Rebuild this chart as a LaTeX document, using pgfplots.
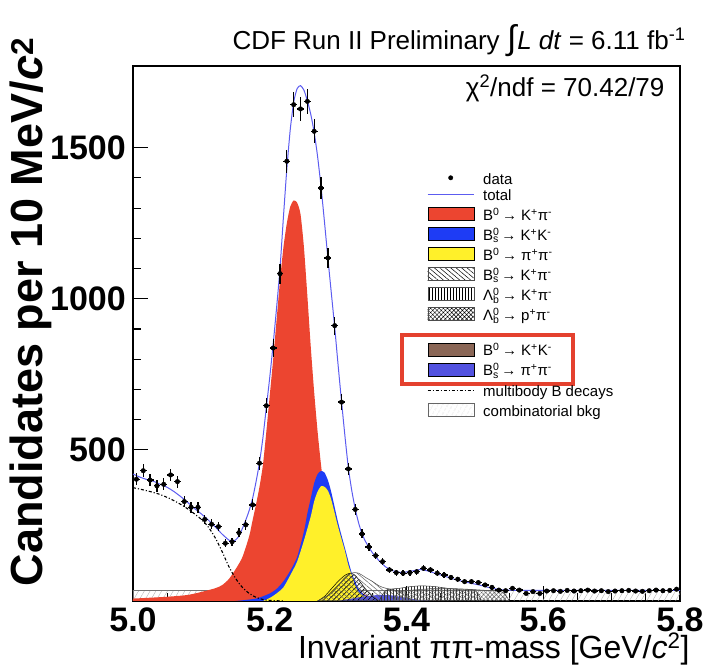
\documentclass[border=0pt]{standalone}
\usepackage{fontspec}
\setmainfont{Liberation Sans}
\usepackage{pgfplots}
\pgfplotsset{compat=1.18}
\usetikzlibrary{patterns,patterns.meta}

\definecolor{sigred}{HTML}{EC4530}
\definecolor{sigblue}{HTML}{1E3CF5}
\definecolor{sigyellow}{HTML}{FFF02A}
\definecolor{kkbrown}{HTML}{8A6656}
\definecolor{pipurple}{HTML}{5252E0}
\definecolor{fitline}{HTML}{5C5CF0}
\definecolor{boxred}{HTML}{E4412E}

\newcommand{\ud}[2]{\rlap{\textsuperscript{#1}}\textsubscript{#2}}

\pgfplotsset{
  boxleg/.style={legend image code/.code={\draw[##1] (0pt,-3pt) rectangle (46pt,10pt);}},
  lineleg/.style={legend image code/.code={\draw[##1] (0pt,3.5pt) -- (46pt,3.5pt);}},
  dotleg/.style={legend image code/.code={\fill[black] (23pt,3.5pt) circle (2.2pt);}},
}

\begin{document}
\begin{tikzpicture}
\useasboundingbox (-133pt,-70pt) rectangle (571pt,601pt);
\begin{axis}[
  at={(0,0)}, anchor=south west,
  scale only axis, width=547pt, height=535pt,
  xmin=5, xmax=5.8, ymin=0, ymax=1770,
  xtick={5,5.2,5.4,5.6,5.8}, minor x tick num=3,
  ytick={500,1000,1500}, minor y tick num=4,
  tick align=inside, xtick pos=left, ytick pos=left,
  major tick length=15pt, minor tick length=8pt,
  tick style={black, line width=1.1pt},
  axis line style={line width=1.5pt},
  ticklabel style={font=\fontsize{34}{34}\selectfont\bfseries},
  /pgf/number format/assume math mode=true,
  xticklabel style={/pgf/number format/.cd, fixed, fixed zerofill, precision=1, /tikz/.cd, inner sep=0pt, yshift=-7pt},
  yticklabel style={/pgf/number format/1000 sep={}, inner sep=0pt, xshift=-7pt},
  legend style={at={(rel axis cs:0.5375,0.797)}, anchor=north west, draw=none, fill=none,
    inner sep=0pt, font=\fontsize{15}{15}\selectfont, row sep=3.3pt, column sep=9pt,
    nodes={inner sep=0pt, text height=9.5pt, text depth=3.5pt}},
  legend cell align=left,
]
% legend
\addlegendimage{dotleg}
\addlegendentry{data}
\addlegendimage{lineleg, fitline, line width=1pt}
\addlegendentry{total}
\addlegendimage{boxleg, fill=sigred, draw=none}
\addlegendentry{B\textsuperscript{0}\,→ K\textsuperscript{+}π\textsuperscript{-}}
\addlegendimage{boxleg, fill=sigblue, draw=none}
\addlegendentry{B\ud{0}{s}\,→ K\textsuperscript{+}K\textsuperscript{-}}
\addlegendimage{boxleg, fill=sigyellow, draw=none}
\addlegendentry{B\textsuperscript{0}\,→ π\textsuperscript{+}π\textsuperscript{-}}
\addlegendimage{boxleg, draw=black!70, pattern={Lines[angle=-40,distance=3.5pt,line width=0.5pt]}, pattern color=black}
\addlegendentry{B\ud{0}{s}\,→ K\textsuperscript{+}π\textsuperscript{-}}
\addlegendimage{boxleg, draw=black!70, pattern={Lines[angle=90,distance=3pt,line width=0.5pt]}, pattern color=black}
\addlegendentry{Λ\ud{0}{b}\,→ K\textsuperscript{+}π\textsuperscript{-}}
\addlegendimage{boxleg, draw=black!70, pattern={Hatch[angle=45,distance=3pt,line width=0.5pt]}, pattern color=black}
\addlegendentry{Λ\ud{0}{b}\,→ p\textsuperscript{+}π\textsuperscript{-}}
\addlegendimage{empty legend}
\addlegendentry[text height=12pt, text depth=0pt]{}
\addlegendimage{boxleg, fill=kkbrown, draw=none}
\addlegendentry{B\textsuperscript{0}\,→ K\textsuperscript{+}K\textsuperscript{-}}
\addlegendimage{boxleg, fill=pipurple, draw=none}
\addlegendentry{B\ud{0}{s}\,→ π\textsuperscript{+}π\textsuperscript{-}}
\addlegendimage{empty legend}
\addlegendentry[text height=0pt, text depth=0pt]{}
\addlegendimage{lineleg, black, line width=1pt, dash dot}
\addlegendentry{multibody B decays}
\addlegendimage{boxleg, draw=black!60, pattern={Lines[angle=60,distance=4pt,line width=0.4pt]}, pattern color=black!35}
\addlegendentry{combinatorial bkg}

% combinatorial background
\addplot[forget plot, draw=black!55, line width=0.6pt, pattern={Lines[angle=60,distance=5pt,line width=0.4pt]}, pattern color=black!30]
table {
5.000 35
5.800 35
} \closedcycle;

% B0 -> K pi
\addplot[forget plot, fill=sigred, draw=none, smooth, tension=0.4] table {
5.000 8
5.050 14
5.080 20
5.100 30
5.120 42
5.130 52
5.140 72
5.150 105
5.160 145
5.170 215
5.175 268
5.180 320
5.185 378
5.190 450
5.195 560
5.200 680
5.205 800
5.210 930
5.215 1060
5.220 1170
5.225 1250
5.230 1305
5.235 1325
5.240 1318
5.245 1280
5.250 1170
5.255 1010
5.260 840
5.265 690
5.270 560
5.275 450
5.280 360
5.290 240
5.300 160
5.310 100
5.320 60
5.330 35
5.340 20
5.360 8
5.400 2
5.450 0
} \closedcycle;

% Bs -> K K
\addplot[forget plot, fill=sigblue, draw=none, smooth, tension=0.4] table {
5.150 0
5.180 8
5.200 25
5.210 40
5.220 65
5.230 100
5.240 145
5.250 230
5.255 290
5.260 340
5.265 390
5.270 420
5.275 430
5.280 425
5.285 400
5.290 360
5.300 260
5.310 175
5.320 92
5.330 40
5.340 18
5.360 5
5.400 0
} \closedcycle;

% B0 -> pi pi
\addplot[forget plot, fill=sigyellow, draw=none, smooth, tension=0.4] table {
5.190 0
5.200 10
5.210 25
5.220 45
5.230 85
5.240 130
5.250 200
5.260 280
5.265 330
5.270 362
5.275 380
5.280 378
5.285 365
5.290 335
5.300 245
5.310 165
5.315 118
5.320 85
5.325 50
5.330 30
5.340 14
5.360 3
5.400 0
} \closedcycle;

% Bs -> pi pi
\addplot[forget plot, fill=pipurple, draw=none, smooth] table {
5.300 0
5.330 12
5.360 20
5.380 18
5.400 10
5.420 3
5.440 0
} \closedcycle;

% Bs -> K pi (hatched)
\addplot[forget plot, draw=black, line width=0.5pt, pattern={Lines[angle=45,distance=3.5pt,line width=0.6pt]}, pattern color=black, smooth] table {
5.270 0
5.280 15
5.290 40
5.300 65
5.310 85
5.318 92
5.325 85
5.330 70
5.340 40
5.350 15
5.360 0
} \closedcycle;
\addplot[forget plot, draw=black!70, line width=0.5pt, pattern={Lines[angle=-40,distance=3.5pt,line width=0.5pt]}, pattern color=black!60, smooth] table {
5.270 0
5.290 25
5.300 50
5.310 78
5.320 93
5.330 92
5.340 78
5.350 65
5.360 50
5.370 42
5.380 38
5.390 30
5.400 15
5.410 0
} \closedcycle;

% Lambda_b components (hatched)
\addplot[forget plot, draw=black!80, line width=0.5pt, pattern={Lines[angle=90,distance=3pt,line width=0.5pt]}, pattern color=black!80, smooth] table {
5.360 0
5.370 35
5.390 42
5.400 46
5.420 50
5.440 48
5.460 42
5.480 37
5.500 35
5.510 0
} \closedcycle;
\addplot[forget plot, draw=black!70, line width=0.5pt, pattern={Hatch[angle=45,distance=3pt,line width=0.4pt]}, pattern color=black!60, smooth] table {
5.380 0
5.390 30
5.420 38
5.450 42
5.480 40
5.510 36
5.540 30
5.550 0
} \closedcycle;

% multibody B decays
\addplot[forget plot, black, line width=1.1pt, dash dot, smooth] table {
5.000 375
5.020 365
5.040 352
5.060 332
5.080 305
5.100 270
5.110 245
5.120 210
5.130 165
5.140 115
5.150 75
5.160 45
5.170 25
5.180 12
5.190 5
5.200 2
5.220 0
};

% total fit
\addplot[forget plot, fitline, line width=1pt, smooth, tension=0.4] table {
5.000 420
5.010 410
5.020 402
5.030 396
5.040 386
5.050 376
5.060 362
5.070 345
5.080 326
5.090 306
5.100 288
5.110 268
5.120 246
5.130 222
5.140 202
5.145 198
5.150 202
5.155 215
5.160 240
5.165 268
5.170 300
5.175 340
5.180 395
5.185 458
5.190 540
5.195 640
5.200 740
5.205 850
5.210 970
5.215 1100
5.220 1270
5.225 1430
5.230 1560
5.235 1650
5.240 1695
5.245 1705
5.250 1690
5.255 1655
5.260 1610
5.265 1550
5.270 1470
5.275 1370
5.280 1255
5.285 1135
5.290 1020
5.295 905
5.300 780
5.305 660
5.310 545
5.315 440
5.320 365
5.325 305
5.330 258
5.335 222
5.340 197
5.345 178
5.350 160
5.360 133
5.370 112
5.380 100
5.390 95
5.400 96
5.410 100
5.420 104
5.430 100
5.440 93
5.450 86
5.460 79
5.470 72
5.480 66
5.490 61
5.500 56
5.510 51
5.520 45
5.530 40
5.540 37
5.550 36
5.560 35
5.600 35
5.700 35
5.800 35
};

% data
\addplot[forget plot, black, only marks, mark=*, mark size=2.3pt,
  error bars/.cd, y dir=both, y explicit, x dir=both, x fixed=0.005,
  error mark=none, error bar style={line width=1.3pt}]
table[x=m, y=n, y error=e] {
m n e
5.005 403 20
5.015 431 21
5.025 400 20
5.035 381 20
5.045 386 20
5.055 417 20
5.065 395 20
5.075 329 18
5.085 310 18
5.095 310 18
5.105 270 16
5.115 254 16
5.125 246 16
5.135 191 14
5.145 196 14
5.155 226 15
5.165 252 16
5.175 318 18
5.185 456 21
5.195 646 25
5.205 837 29
5.215 1083 33
5.225 1455 38
5.235 1642 41
5.245 1628 40
5.255 1653 41
5.265 1554 39
5.275 1366 37
5.285 1135 34
5.295 911 30
5.305 658 26
5.315 437 21
5.325 303 17
5.335 222 15
5.345 179 13
5.355 150 12
5.365 130 11
5.375 103 10
5.385 94 10
5.395 92 10
5.405 94 10
5.415 97 10
5.425 108 10
5.435 103 10
5.445 92 10
5.455 86 9
5.465 78 9
5.475 72 8
5.485 64 8
5.495 64 8
5.505 61 8
5.515 53 7
5.525 45 7
5.535 36 6
5.545 34 6
5.555 42 6
5.565 36 6
5.575 25 5
5.585 31 6
5.595 25 5
5.605 33 6
5.615 34 6
5.625 32 6
5.635 35 6
5.645 33 6
5.655 34 6
5.665 36 6
5.675 33 6
5.685 34 6
5.695 31 6
5.705 33 6
5.715 34 6
5.725 35 6
5.735 33 6
5.745 32 6
5.755 34 6
5.765 36 6
5.775 34 6
5.785 35 6
5.795 39 6
};

% highlight box round two legend rows
\draw[boxred, line width=4pt] (rel axis cs:0.4918,0.497) rectangle (rel axis cs:0.804,0.4056);

\node[anchor=east, font=\fontsize{26}{26}\selectfont] at (rel axis cs:0.978,0.958) {χ\textsuperscript{2}/ndf = 70.42/79};
\end{axis}

\node[font=\fontsize{26}{26}\selectfont] at (326pt,560pt)
  {CDF Run II Preliminary {\fontsize{34}{34}\selectfont ∫}\kern1pt\textit{L dt} = 6.11 fb\textsuperscript{-1}};
\node[anchor=east, font=\fontsize{32}{32}\selectfont] at (560pt,-48pt)
  {Invariant ππ-mass [GeV/\textit{c}\textsuperscript{2}]};
\node[rotate=90, font=\fontsize{45}{45}\selectfont\bfseries] at (-102pt,289pt)
  {Candidates per 10 MeV/\textit{c}\textsuperscript{2}};
\end{tikzpicture}
\end{document}
